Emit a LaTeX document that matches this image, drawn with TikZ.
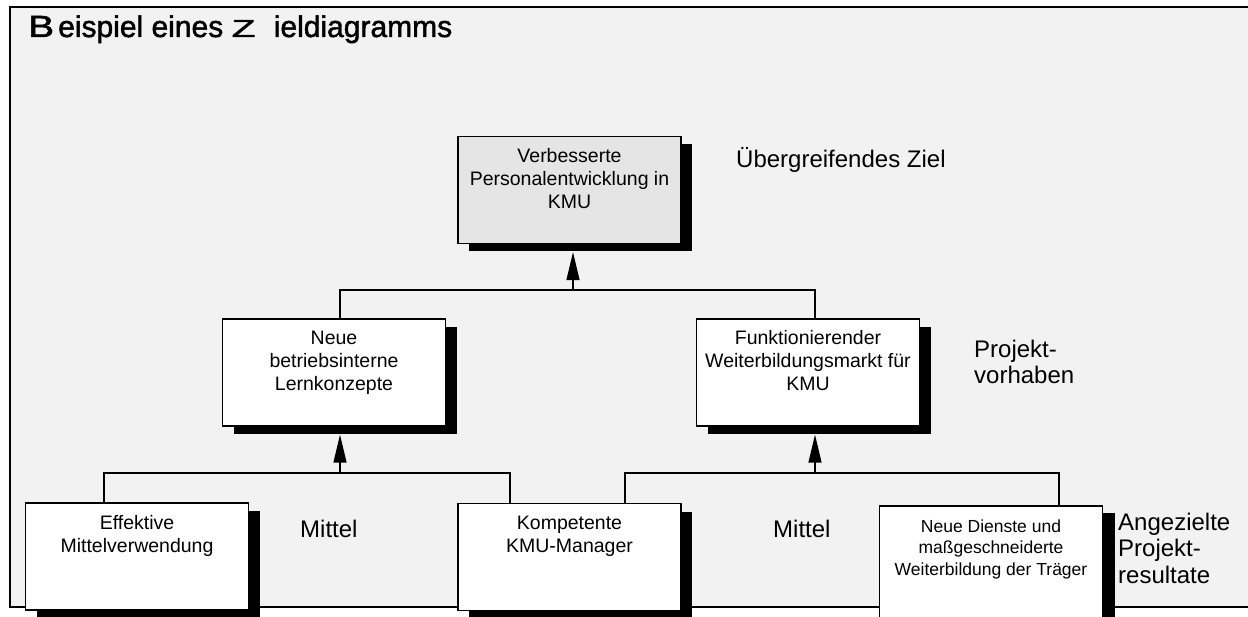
\documentclass[tikz,border=0pt]{standalone}
\usepackage{fontspec}
\setmainfont{Liberation Sans}
\newfontfamily\titelfont[FakeBold=1.6]{Liberation Sans}
\usepackage{xcolor}
\usepackage{tikz}
\usetikzlibrary{shapes,arrows,positioning,calc,shadows,arrows.meta}

\definecolor{framegray}{RGB}{242,242,242}
\definecolor{topgray}{RGB}{229,229,229}

\newcommand{\boxtxt}[1]{\parbox[c][107pt][t]{215pt}{\centering\fontsize{19.5}{23}\selectfont\rule{0pt}{26pt}#1}}
\newcommand{\smalltxt}[1]{\parbox[c][150pt][t]{215pt}{\centering\fontsize{17.5}{21.5}\selectfont\rule{0pt}{26pt}#1}}

\begin{document}
\begin{tikzpicture}[x=1pt, y=-1pt,
    zbox/.style={draw, line width=1.3pt, fill=white, minimum width=223pt, minimum height=107pt, inner sep=0pt,
        drop shadow={shadow xshift=11pt, shadow yshift=-8pt, fill=black, opacity=1}},
    lbl/.style={inner sep=0pt, align=left, font=\fontsize{24}{26.5}\selectfont},
    verb/.style={line width=1.3pt},
    pfeil/.style={line width=1.3pt, -{Triangle[length=28pt,width=13pt]}}]
    \useasboundingbox (0,0) rectangle (1248,617);
    \clip (0,0) rectangle (1248,617);

    % Rahmen
    \fill [framegray] (10,7) rectangle (1260,607);
    \draw [line width=2pt] (1260,7) -- (10,7) -- (10,607) -- (1260,607);
    \node [anchor=base west, inner sep=0pt] (titel) at (28,37)
        {\titelfont\fontsize{30}{30}\selectfont\scalebox{1.3}[1.02]{B}\kern4pt eispiel eines \scalebox{1.3}[0.82]{Z}\hspace{10pt} ieldiagramms};

    % Ziel
    \node [zbox, fill=topgray] (ziel) at (569.5,190) {\boxtxt{Verbesserte\\Personalentwicklung in\\KMU}};
    \node [lbl, anchor=base west] (ueber) at (736,168) {Übergreifendes Ziel};

    % Projektvorhaben
    \node [zbox] (lern) at (334,372.5) {\boxtxt{Neue\\betriebsinterne\\Lernkonzepte}};
    \node [zbox] (markt) at (808,372.5) {\boxtxt{Funktionierender\\Weiterbildungsmarkt für\\KMU}};
    \node [lbl, anchor=base west] (vorhaben) at (974,384) {Projekt-\\vorhaben};

    % Mittel
    \node [zbox] (effektiv) at (137,556.5) {\boxtxt{Effektive\\Mittelverwendung}};
    \node [zbox] (kompetent) at (569.5,557) {\boxtxt{Kompetente\\KMU-Manager}};
    \node [zbox, minimum height=150pt, drop shadow={shadow xshift=12pt, shadow yshift=-7pt, fill=black, opacity=1}]
        (dienste) at (991,581) {\smalltxt{Neue Dienste und\\maßgeschneiderte\\Weiterbildung der Träger}};
    \node [lbl, anchor=base west] (mittelA) at (300,537) {Mittel};
    \node [lbl, anchor=base west] (mittelB) at (773,537) {Mittel};
    \node [lbl, anchor=base west] (resultate) at (1118,583) {Angezielte\\Projekt-\\resultate};

    % Verbindungen
    \coordinate (jTop) at (573,290);
    \coordinate (jL) at (340,473);
    \coordinate (jR) at (815,473);
    \draw [verb] ([xshift=6pt]lern.north) |- (jTop) -| ([xshift=7pt]markt.north);
    \draw [pfeil] (jTop) -- ([yshift=-8pt]ziel.south -| jTop);
    \draw [verb] ([xshift=-33pt]effektiv.north) |- (jL) -| ([xshift=-59.5pt]kompetent.north);
    \draw [pfeil] (jL) -- ([yshift=-8pt]lern.south -| jL);
    \draw [verb] ([xshift=55.5pt]kompetent.north) |- (jR) -| ([xshift=68pt]dienste.north);
    \draw [pfeil] (jR) -- ([yshift=-8pt]markt.south -| jR);
\end{tikzpicture}
\end{document}
